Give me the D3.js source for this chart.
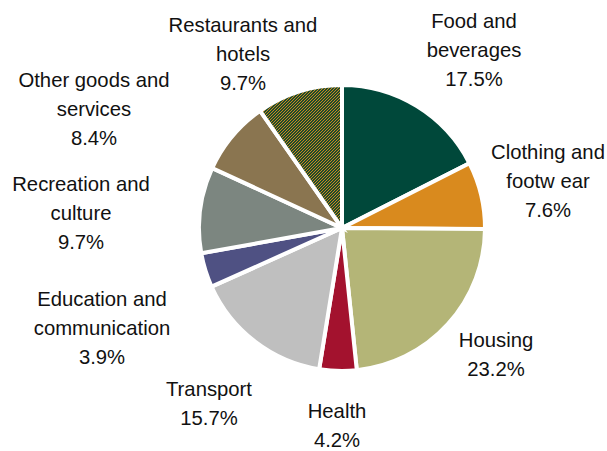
<!DOCTYPE html>
<html>
<head>
<meta charset="utf-8">
<script src="https://cdn.jsdelivr.net/npm/d3@7"></script>
<style>
  html, body { margin: 0; padding: 0; background: #fff; }
  svg { display: block; }
  text { font-family: "Liberation Sans", Arial, sans-serif; font-size: 20.3px; fill: #111; }
</style>
</head>
<body>
<svg id="chart" width="607" height="451"></svg>
<script>
// Household spending shares by category
const categories = [
  ["Food and", "beverages"],
  ["Clothing and", "footw ear"],
  ["Housing"],
  ["Health"],
  ["Transport"],
  ["Education and", "communication"],
  ["Recreation and", "culture"],
  ["Other goods and", "services"],
  ["Restaurants and", "hotels"]
];
const shares = [17.5, 7.6, 23.2, 4.2, 15.7, 3.9, 9.7, 8.4, 9.7];
const colors = ["#00483a", "#d98a1e", "#b4b577", "#a3122e", "#bfbfbf",
                "#4f5183", "#7c8680", "#8a7550", "url(#hatch)"];
// label anchor (centre x, first baseline) for each category
const labelX = [474, 548, 496, 337, 209, 102, 81, 94, 243];
const labelY = [28, 159, 347, 418, 396, 306, 191, 87, 32];
const lineStep = 29;

const svg = d3.select("#chart");

// fine woven pattern for the restaurants slice
const defs = svg.append("defs");
const pat = defs.append("pattern")
  .attr("id", "hatch")
  .attr("patternUnits", "userSpaceOnUse")
  .attr("width", 3).attr("height", 3);
pat.append("rect").attr("width", 3).attr("height", 3).attr("fill", "#1f4a2c");
[[0, 2], [1, 1], [2, 0]].forEach(([x, y]) =>
  pat.append("rect").attr("x", x).attr("y", y).attr("width", 1).attr("height", 1).attr("fill", "#c8891f"));

const cx = 342, cy = 228, radius = 143;

const pie = d3.pie().sort(null).value(d => d)
  .startAngle(0).endAngle(2 * Math.PI);
const arc = d3.arc().innerRadius(0).outerRadius(radius);

const g = svg.append("g").attr("transform", `translate(${cx},${cy})`);
g.selectAll("path")
  .data(pie(shares))
  .join("path")
  .attr("d", arc)
  .attr("fill", (d, i) => colors[i])
  .attr("stroke", "#fff")
  .attr("stroke-width", 4)
  .attr("stroke-linejoin", "miter");

const fmt = d3.format(".1f");
const labels = svg.append("g");
categories.forEach((lines, i) => {
  const all = lines.concat([fmt(shares[i]) + "%"]);
  const t = labels.append("text")
    .attr("text-anchor", "middle");
  all.forEach((s, j) => {
    t.append("tspan")
      .attr("x", labelX[i])
      .attr("y", labelY[i] + j * lineStep)
      .text(s);
  });
});
</script>
</body>
</html>
